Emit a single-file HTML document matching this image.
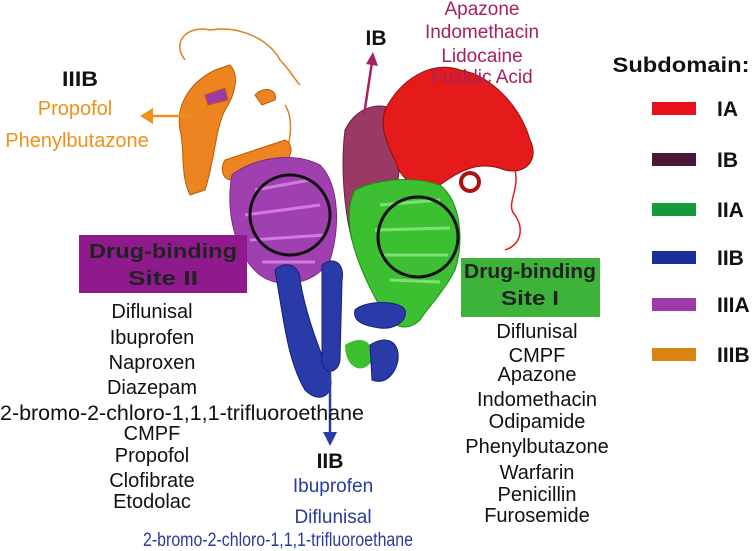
<!DOCTYPE html>
<html><head><meta charset="utf-8"><style>
body{margin:0;background:#fff;width:754px;height:551px;overflow:hidden;font-family:"Liberation Sans",sans-serif}
svg{position:absolute;left:0;top:0}
text{font-family:"Liberation Sans",sans-serif}
</style></head><body>
<svg width="754" height="551" viewBox="0 0 754 551">
<path d="M185,60 C170,40 190,25 210,30 C240,25 270,40 280,60 C290,70 295,80 300,85" fill="none" stroke="#e07d1a" stroke-width="1.5"/>
<path d="M280,170 C290,150 295,120 285,105" fill="none" stroke="#e07d1a" stroke-width="1.5"/>
<g stroke="#b85c0a" stroke-width="1">
<path d="M180,130 C175,100 195,80 215,70 L230,65 C240,75 235,95 225,110 C215,130 215,160 205,190 L190,195 C180,175 185,150 180,130z" fill="#ee8420"/>
<path d="M225,160 L285,140 C295,145 292,160 280,165 L232,180 C222,180 220,168 225,160z" fill="#ee8420"/>
<path d="M255,95 C265,85 278,90 275,100 L262,105z" fill="#ee8420"/>
<path d="M205,95 L225,88 L228,100 L208,105z" fill="#9c3aa8"/>
</g>
<path d="M232,175 C250,160 290,150 320,165 C340,185 340,230 330,260 C315,285 280,290 260,275 C235,255 225,210 232,175z" fill="#a040b0" stroke="#7a2a88" stroke-width="1"/>
<path d="M255,190 L310,180 M245,215 L320,205 M250,240 L325,235 M262,262 L315,262" stroke="#d07ae0" stroke-width="3" fill="none"/>
<path d="M345,130 C355,110 375,100 395,110 C405,130 400,170 395,200 C385,230 370,250 355,250 C345,220 340,170 345,130z" fill="#9a3a64" stroke="#6a2040" stroke-width="1"/>
<path d="M385,110 C400,80 430,60 460,70 C490,75 520,105 530,140 C540,160 525,175 505,170 C480,160 460,170 440,185 C420,195 400,180 395,160 C385,140 380,125 385,110z" fill="#e51a1a" stroke="#9a0a0a" stroke-width="1"/>
<path d="M515,170 C520,190 505,205 515,215 C525,230 520,245 505,250" fill="none" stroke="#e51a1a" stroke-width="1.5"/>
<circle cx="470" cy="182" r="9" fill="none" stroke="#b01010" stroke-width="4"/>
<path d="M355,190 C375,180 410,175 440,185 C460,200 465,240 455,270 C445,290 430,305 420,320 C410,330 395,330 385,315 C370,290 355,260 350,230 C348,210 350,200 355,190z" fill="#3cbf30" stroke="#1f8a1a" stroke-width="1"/>
<path d="M380,205 L440,200 M375,230 L450,228 M380,255 L448,255 M390,280 L440,282" stroke="#7de070" stroke-width="3" fill="none"/>
<path d="M345,345 C360,335 375,340 372,360 C365,375 345,370 345,345z" fill="#3cbf30"/>
<g fill="#2a3aa8" stroke="#15207a" stroke-width="1">
<path d="M275,270 C285,260 300,265 300,280 C305,310 315,340 330,375 C335,395 320,405 305,390 C290,365 285,330 280,300z"/>
<path d="M322,265 C335,255 345,265 342,280 L340,360 C338,375 322,375 322,360z"/>
<path d="M355,310 C365,300 400,300 405,310 C408,320 395,330 380,328 C365,326 352,322 355,310z"/>
<path d="M370,345 C385,335 400,340 398,360 C395,375 385,385 372,380z"/>
</g>
<circle cx="290" cy="215" r="40" fill="none" stroke="#111" stroke-width="3"/>
<circle cx="418" cy="237" r="40" fill="none" stroke="#111" stroke-width="3"/>
<line x1="190" y1="116" x2="150" y2="116" stroke="#f0901a" stroke-width="2.5"/>
<path d="M153,108 L140,116 L153,124 z" fill="#f0901a"/>
<line x1="364" y1="115" x2="372" y2="62" stroke="#a8205e" stroke-width="2.5"/>
<path d="M366,64 L373,52 L378,66 z" fill="#a8205e"/>
<line x1="330" y1="360" x2="330" y2="436" stroke="#2a3aa8" stroke-width="2.5"/>
<path d="M323,432 L330,446 L337,432 z" fill="#2a3aa8"/>
<rect x="79" y="235" width="168" height="58" fill="#8e1a8e"/>
<text x="163" y="258" font-size="20" font-weight="bold" fill="#222" text-anchor="middle" textLength="148" lengthAdjust="spacingAndGlyphs">Drug-binding</text>
<text x="163" y="285" font-size="20" font-weight="bold" fill="#222" text-anchor="middle" textLength="70" lengthAdjust="spacingAndGlyphs">Site II</text>
<rect x="461" y="258" width="139" height="59" fill="#3db33a"/>
<text x="530" y="278" font-size="20" font-weight="bold" fill="#222" text-anchor="middle" textLength="132" lengthAdjust="spacingAndGlyphs">Drug-binding</text>
<text x="530" y="305" font-size="20" font-weight="bold" fill="#222" text-anchor="middle" textLength="58" lengthAdjust="spacingAndGlyphs">Site I</text>
<text x="80" y="86" font-size="21" font-weight="bold" fill="#111" text-anchor="middle" textLength="36" lengthAdjust="spacingAndGlyphs">IIIB</text>
<g fill="#f0901a" font-size="20" text-anchor="middle"><text x="75" y="115">Propofol</text><text x="77" y="147">Phenylbutazone</text></g>
<text x="376" y="45" font-size="21" font-weight="bold" fill="#111" text-anchor="middle">IB</text>
<g fill="#a8205e" font-size="19" text-anchor="middle">
<text x="482" y="15">Apazone</text><text x="482" y="38">Indomethacin</text><text x="482" y="62">Lidocaine</text><text x="482" y="83">Fusidic Acid</text></g>
<text x="681" y="72" font-size="21" font-weight="bold" fill="#111" text-anchor="middle" textLength="137" lengthAdjust="spacingAndGlyphs">Subdomain:</text>
<rect x="652" y="102" width="44" height="13" fill="#e8101a"/>
<rect x="652" y="153" width="44" height="13" fill="#4a1838"/>
<rect x="652" y="203" width="44" height="13" fill="#139a3a"/>
<rect x="652" y="251" width="44" height="13" fill="#1c2e98"/>
<rect x="652" y="298" width="44" height="13" fill="#9c3aa8"/>
<rect x="652" y="348" width="44" height="13" fill="#db8410"/>
<g font-size="21" font-weight="bold" fill="#111">
<text x="717" y="116">IA</text><text x="717" y="167">IB</text><text x="717" y="217">IIA</text><text x="717" y="265">IIB</text><text x="717" y="312">IIIA</text><text x="717" y="362">IIIB</text></g>
<g font-size="20" fill="#111" text-anchor="middle">
<text x="152" y="318">Diflunisal</text><text x="152" y="344">Ibuprofen</text><text x="152" y="369">Naproxen</text><text x="152" y="394">Diazepam</text>
<text x="182" y="420" font-size="21" textLength="364" lengthAdjust="spacingAndGlyphs">2-bromo-2-chloro-1,1,1-trifluoroethane</text>
<text x="152" y="440">CMPF</text><text x="152" y="462">Propofol</text><text x="152" y="487">Clofibrate</text><text x="152" y="508">Etodolac</text>
<text x="537" y="338">Diflunisal</text><text x="537" y="362">CMPF</text><text x="537" y="381">Apazone</text><text x="537" y="406">Indomethacin</text><text x="537" y="428">Odipamide</text><text x="537" y="453">Phenylbutazone</text><text x="537" y="479">Warfarin</text><text x="537" y="501">Penicillin</text><text x="537" y="522">Furosemide</text>
</g>
<text x="330" y="468" font-size="21" font-weight="bold" fill="#111" text-anchor="middle">IIB</text>
<g font-size="19" fill="#2a3a9a" text-anchor="middle"><text x="333" y="492">Ibuprofen</text><text x="333" y="523">Diflunisal</text><text x="278" y="546" font-size="19" textLength="270" lengthAdjust="spacingAndGlyphs">2-bromo-2-chloro-1,1,1-trifluoroethane</text></g>
</svg>
</body></html>
